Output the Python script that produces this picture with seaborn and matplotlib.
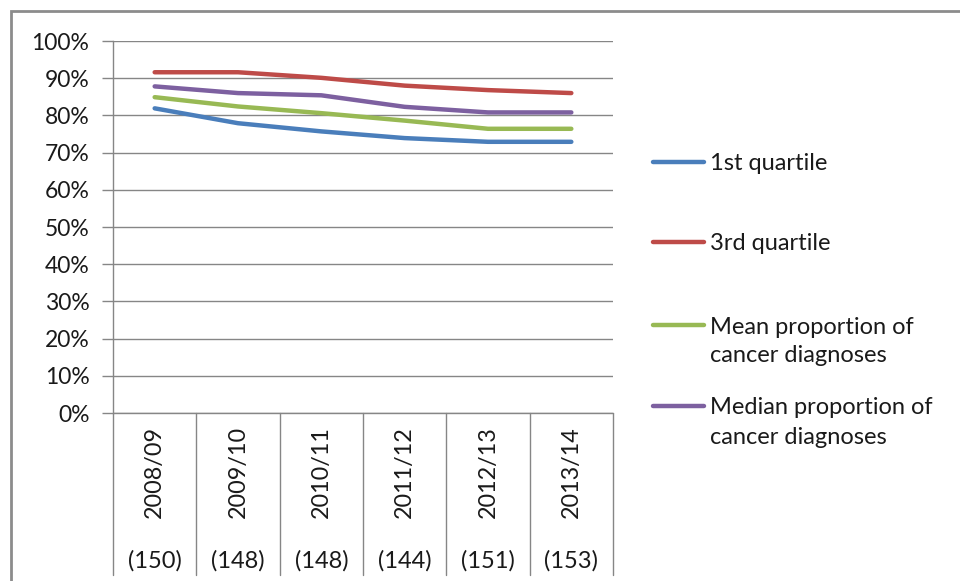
import matplotlib
matplotlib.use("Agg")
import matplotlib.pyplot as plt
from matplotlib.lines import Line2D
from matplotlib.patches import Rectangle
import seaborn as sns
import pandas as pd

# Financial years and number of practices in each year
years = ["2008/09", "2009/10", "2010/11", "2011/12", "2012/13", "2013/14"]
counts = ["(150)", "(148)", "(148)", "(144)", "(151)", "(153)"]

# Proportion of cancer diagnoses (%)
q1 = [81.9, 77.9, 75.7, 73.9, 72.9, 72.9]
q3 = [91.6, 91.6, 90.1, 88.0, 86.8, 86.0]
mean_prop = [84.9, 82.4, 80.6, 78.6, 76.4, 76.4]
median_prop = [87.8, 86.0, 85.4, 82.3, 80.8, 80.8]

series_names = ["1st quartile", "3rd quartile",
                "Mean proportion of\ncancer diagnoses",
                "Median proportion of\ncancer diagnoses"]
series_values = [q1, q3, mean_prop, median_prop]
colors = ["#4A7EBB", "#BE4B48", "#98B954", "#7D60A0"]

rows = []
for name, vals in zip(series_names, series_values):
    for i, v in enumerate(vals):
        rows.append({"pos": i, "value": v, "series": name})
df = pd.DataFrame(rows)

sns.set_style("white")
plt.rcParams["font.family"] = ["Lato", "DejaVu Sans"]

TXT = "#1a1a1a"
GRID = "#868686"

fig = plt.figure(figsize=(9.6, 5.81), dpi=100)
ax = fig.add_axes([113 / 960, 1 - 413 / 581, 500 / 960, 372 / 581])

sns.lineplot(data=df, x="pos", y="value", hue="series", hue_order=series_names,
             palette=colors, linewidth=3.2, solid_capstyle="round",
             legend=False, ax=ax)

ax.set_xlim(-0.5, len(years) - 0.5)
ax.set_ylim(0, 100)
ax.set_yticks(range(0, 101, 10))
ax.set_yticklabels([f"{v}%" for v in range(0, 101, 10)], fontsize=16.5, color=TXT)
ax.set_xticks([])
ax.set_xlabel("")
ax.set_ylabel("")
ax.grid(axis="y", color=GRID, linewidth=1)
ax.set_axisbelow(True)
for side in ["top", "right", "bottom"]:
    ax.spines[side].set_visible(False)
ax.spines["left"].set_color(GRID)
ax.spines["left"].set_linewidth(1)
ax.tick_params(axis="y", length=8, width=1, color=GRID, pad=9, left=True)

# Category separators running down through the label area
trans = ax.transAxes
for k in range(len(years) + 1):
    xk = k / len(years)
    ax.add_line(Line2D([xk, xk], [0, -0.435], transform=trans, color=GRID,
                       linewidth=1, clip_on=False))
ax.add_line(Line2D([0, 1], [0, 0], transform=trans, color=GRID,
                   linewidth=1, clip_on=False))

# Rotated year labels and practice counts
xt = ax.get_xaxis_transform()
for i, (yr, n) in enumerate(zip(years, counts)):
    ax.text(i, -0.035, yr, rotation=90, ha="center", va="top", fontsize=16.8,
            color=TXT, transform=xt, clip_on=False)
    ax.text(i, -0.397, n, ha="center", va="center", fontsize=17,
            color=TXT, transform=xt, clip_on=False)

# Legend drawn beside the plot, handle level with the first text line
legend_rows = [162, 242, 325, 406]
line_step = 29
for name, col, yp in zip(series_names, colors, legend_rows):
    yf = 1 - yp / 581
    fig.add_artist(Line2D([653 / 960, 704 / 960], [yf, yf], color=col, linewidth=3.2,
                          solid_capstyle="round", transform=fig.transFigure))
    for j, part in enumerate(name.split("\n")):
        fig.text(710 / 960, 1 - (yp + j * line_step) / 581, part, ha="left",
                 va="center_baseline", fontsize=17, color=TXT,
                 transform=fig.transFigure)

# Outer chart frame
fig.add_artist(Rectangle((11 / 960, -0.05), 1.2, 1 - 11 / 581 + 0.05,
                         transform=fig.transFigure, fill=False,
                         edgecolor="#8c8c8c", linewidth=2))

fig.savefig("out.png", dpi=100)
